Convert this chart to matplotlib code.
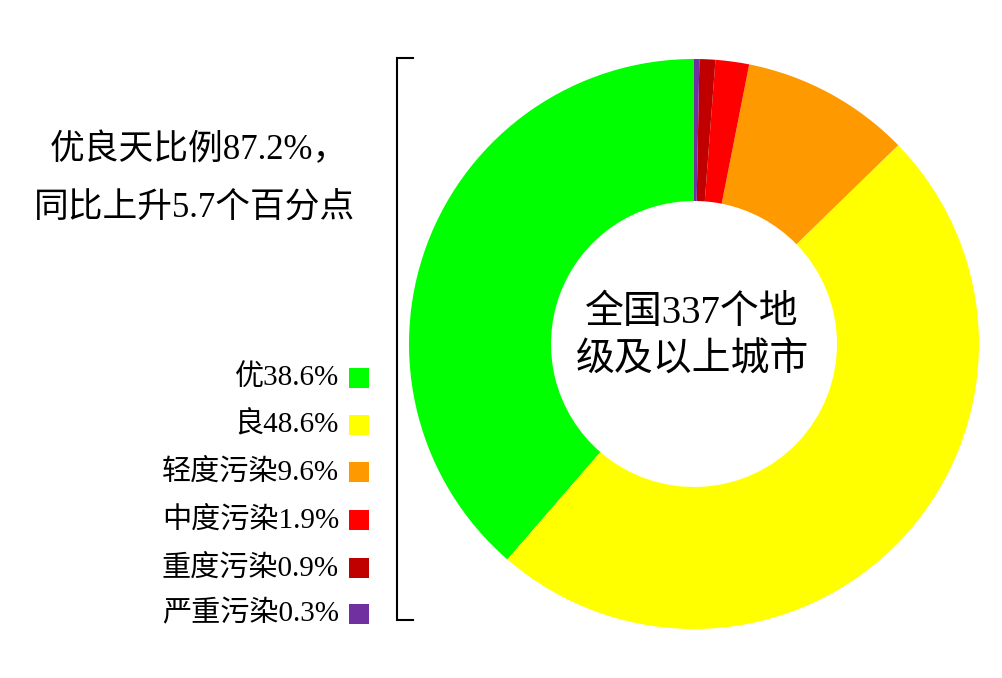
import matplotlib
matplotlib.use("Agg")
import matplotlib.pyplot as plt

# 数据
labels = ["优", "良", "轻度污染", "中度污染", "重度污染", "严重污染"]
values = [38.6, 48.6, 9.6, 1.9, 0.9, 0.3]
colors = ["#00FF00", "#FFFF00", "#FF9900", "#FF0000", "#C00000", "#7030A0"]
title_lines = ["优良天比例87.2%，", "同比上升5.7个百分点"]
center_lines = ["全国337个地", "级及以上城市"]

W, H = 1002, 678
fam = ["Liberation Serif", "Noto Sans CJK SC", "DejaVu Sans"]

fig = plt.figure(figsize=(W / 100, H / 100), dpi=100)
ax = fig.add_axes([0, 0, 1, 1])

# 环形图
ax.pie(values, colors=colors, startangle=90, counterclock=True,
       center=(694, H - 344), radius=285,
       wedgeprops=dict(width=142, linewidth=0))
ax.set_xlim(0, W)
ax.set_ylim(0, H)
ax.axis("off")

# 中心文字
ax.text(692, H - 313, center_lines[0], ha="center", va="center",
        fontsize=28, family=fam)
ax.text(692, H - 360, center_lines[1], ha="center", va="center",
        fontsize=28, family=fam)

# 括号
ax.plot([413, 397, 397, 413], [H - 58, H - 58, H - 620, H - 620],
        color="black", lw=1.5, solid_joinstyle="miter")

# 左上文字
ax.text(348, H - 150, title_lines[0], ha="right", va="center",
        fontsize=25, family=fam)
ax.text(355, H - 208, title_lines[1], ha="right", va="center",
        fontsize=25, family=fam)

# 图例
ys = [378, 425, 472, 520, 568, 614]
for lab, v, c, y in zip(labels, values, colors, ys):
    ax.add_patch(plt.Rectangle((349, H - y - 10), 20, 20, color=c, lw=0))
    ax.text(339, H - y, f"{lab}{v}%", ha="right", va="center",
            fontsize=21, family=fam)

fig.savefig("out.png", dpi=100)
